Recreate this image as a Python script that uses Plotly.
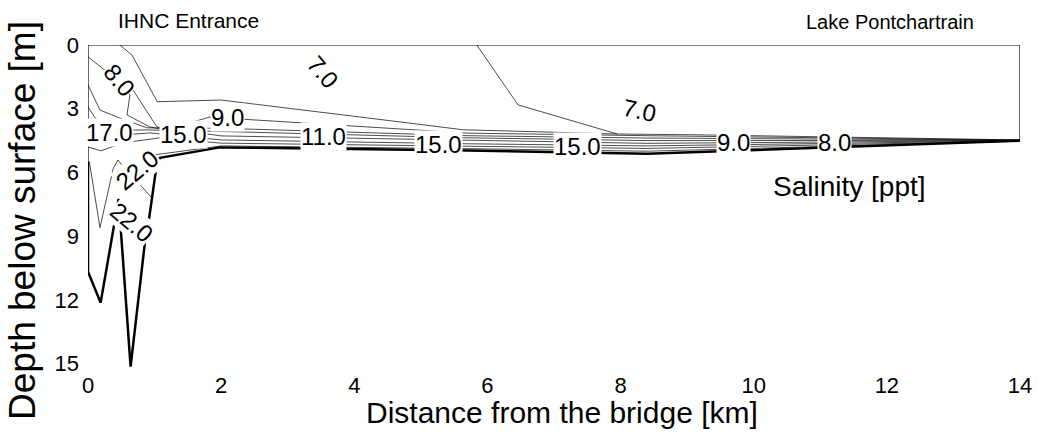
import plotly.graph_objects as go

# ---- domain outline (distance [km], depth [m]) ----
top_x = [0, 14.0]
top_d = [0, 0]
right_x = [14.0, 14.0]
right_d = [0, 4.47]
left_x = [0, 0]
left_d = [0, 5.49]
bottom_x = [0, 0, 0.19, 0.46, 0.64, 0.856, 0.9, 0.96, 1.036, 1.08, 1.98, 5.7, 8.4, 14.0]
bottom_d = [5.49, 10.67, 12.13, 7.25, 15.14, 9.26, 8.56, 7.19, 5.55, 5.31, 4.82, 4.97, 5.12, 4.5]

# ---- salinity isolines ----
iso_a_x = [0.48, 0.66, 1.04, 2.0, 4.84, 5.63, 7.95, 9.2, 14.0]
iso_a_d = [0, 0.47, 2.67, 2.59, 3.68, 3.99, 4.19, 4.23, 4.47]
iso_a2_x = [5.84, 6.46, 7.95]
iso_a2_d = [0, 2.82, 4.19]
iso_b_x = [0, 0.21, 0.48, 0.63, 0.586, 0.93, 1.08, 1.577, 1.833, 2.0, 5.7, 8.4, 14.0]
iso_b_d = [0.56, 1.08, 1.74, 2.35, 3.29, 3.86, 3.95, 3.62, 3.39, 3.43, 4.15, 4.27, 4.48]
iso_c_x = [0, 0.18, 0.436, 0.886, 2.0, 5.7, 8.4, 14.0]
iso_c_d = [1.88, 3.06, 3.39, 3.9, 3.92, 4.27, 4.38, 4.48]
iso_d_x = [0, 0.105, 0.33, 0.93, 2.0, 5.7, 8.4, 14.0]
iso_d_d = [2.91, 3.43, 4.0, 4.0, 4.07, 4.37, 4.5, 4.49]
iso_e_x = [0.676, 1.036, 2.0, 5.7, 8.4, 14.0]
iso_e_d = [2.12, 3.86, 4.28, 4.5, 4.63, 4.5]
iso_f_x = [0, 0.33, 0.93, 2.0, 5.7, 8.4, 14.0]
iso_f_d = [3.86, 4.28, 4.14, 4.47, 4.65, 4.75, 4.51]
iso_g_x = [0, 0.195, 0.526, 1.08, 2.0, 5.7, 8.4, 14.0]
iso_g_d = [4.8, 4.98, 4.61, 4.37, 4.62, 4.78, 4.87, 4.52]
iso_h_x = [0.93, 2.0, 5.7, 8.4, 14.0]
iso_h_d = [5.2, 4.75, 4.88, 5.0, 4.53]
iso_v_x = [0.02, 0.18, 0.38]
iso_v_d = [5.49, 8.6, 5.8]
iso_22_x = [0.38, 0.45, 0.52, 0.676, 0.96]
iso_22_d = [5.8, 5.41, 5.7, 6.21, 7.2]

# ---- contour labels ----
label_text = ["8.0", "7.0", "7.0", "9.0", "17.0", "15.0", "11.0", "15.0", "15.0", "9.0", "8.0", "22.0", "22.0"]
label_x = [0.48, 3.52, 8.29, 2.1, 0.33, 1.43, 3.53, 5.26, 7.36, 9.69, 11.22, 0.75, 0.66]
label_d = [1.65, 1.27, 3.06, 3.43, 4.14, 4.23, 4.33, 4.7, 4.8, 4.61, 4.61, 5.88, 8.37]
label_angle = [50, 50, 12, 0, 0, 0, 0, 0, 0, 0, 0, -40, 40]

x_ticks = [0, 2, 4, 6, 8, 10, 12, 14]
y_ticks = [0, 3, 6, 9, 12, 15]

FONT = "Liberation Sans, Arial, sans-serif"
W, H = 1041, 432
L, R, T, B = 88, 21, 45, 62

fig = go.Figure()


def add_line(x, d, w=1.0):
    fig.add_trace(go.Scatter(x=x, y=d, mode="lines",
                             line=dict(color="black", width=w),
                             hoverinfo="skip", showlegend=False,
                             cliponaxis=False))


for xs, ds in [(top_x, top_d), (right_x, right_d), (left_x, left_d)]:
    add_line(xs, ds, 1.2)
for xs, ds in [(iso_a_x, iso_a_d), (iso_a2_x, iso_a2_d), (iso_b_x, iso_b_d),
               (iso_c_x, iso_c_d), (iso_d_x, iso_d_d), (iso_e_x, iso_e_d),
               (iso_f_x, iso_f_d), (iso_g_x, iso_g_d), (iso_h_x, iso_h_d),
               (iso_v_x, iso_v_d), (iso_22_x, iso_22_d)]:
    add_line(xs, ds, 0.7)
add_line(bottom_x, bottom_d, 2.5)

for t, xx, dd, ang in zip(label_text, label_x, label_d, label_angle):
    fig.add_annotation(x=xx, y=dd, xref="x", yref="y", text=t, showarrow=False,
                       textangle=ang, bgcolor="white", borderpad=0,
                       xanchor="center", yanchor="middle",
                       font=dict(family=FONT, size=24, color="black"))


def px_ann(text, px, py, size, angle=0):
    fig.add_annotation(x=(px - L) / (W - L - R), y=(H - py - B) / (H - T - B),
                       xref="paper", yref="paper", text=text, showarrow=False,
                       xanchor="center", yanchor="middle", textangle=angle,
                       font=dict(family=FONT, size=size, color="black"))


px_ann("IHNC Entrance", 188, 20, 21)
px_ann("Lake Pontchartrain", 890, 22, 20)
px_ann("Salinity [ppt]", 849, 186, 28)
px_ann("Distance from the bridge [km]", 562, 412, 30)
px_ann("Depth below surface [m]", 22, 221, 37, -90)

fig.update_layout(
    width=W, height=H,
    margin=dict(l=L, r=R, t=T, b=B),
    paper_bgcolor="white", plot_bgcolor="white",
    font=dict(family=FONT, color="black"),
    xaxis=dict(range=[0, 14], tickvals=x_ticks, showgrid=False, zeroline=False,
               showline=False, ticks="", tickfont=dict(size=22), automargin=False),
    yaxis=dict(range=[15.3, 0], tickvals=y_ticks, showgrid=False, zeroline=False,
               showline=False, ticks="", tickfont=dict(size=22), automargin=False,
               ticklabelstandoff=8),
)

fig.write_html("out.html", config={"displayModeBar": False},
               post_script="document.body.style.margin='0';document.body.style.overflow='hidden';")
